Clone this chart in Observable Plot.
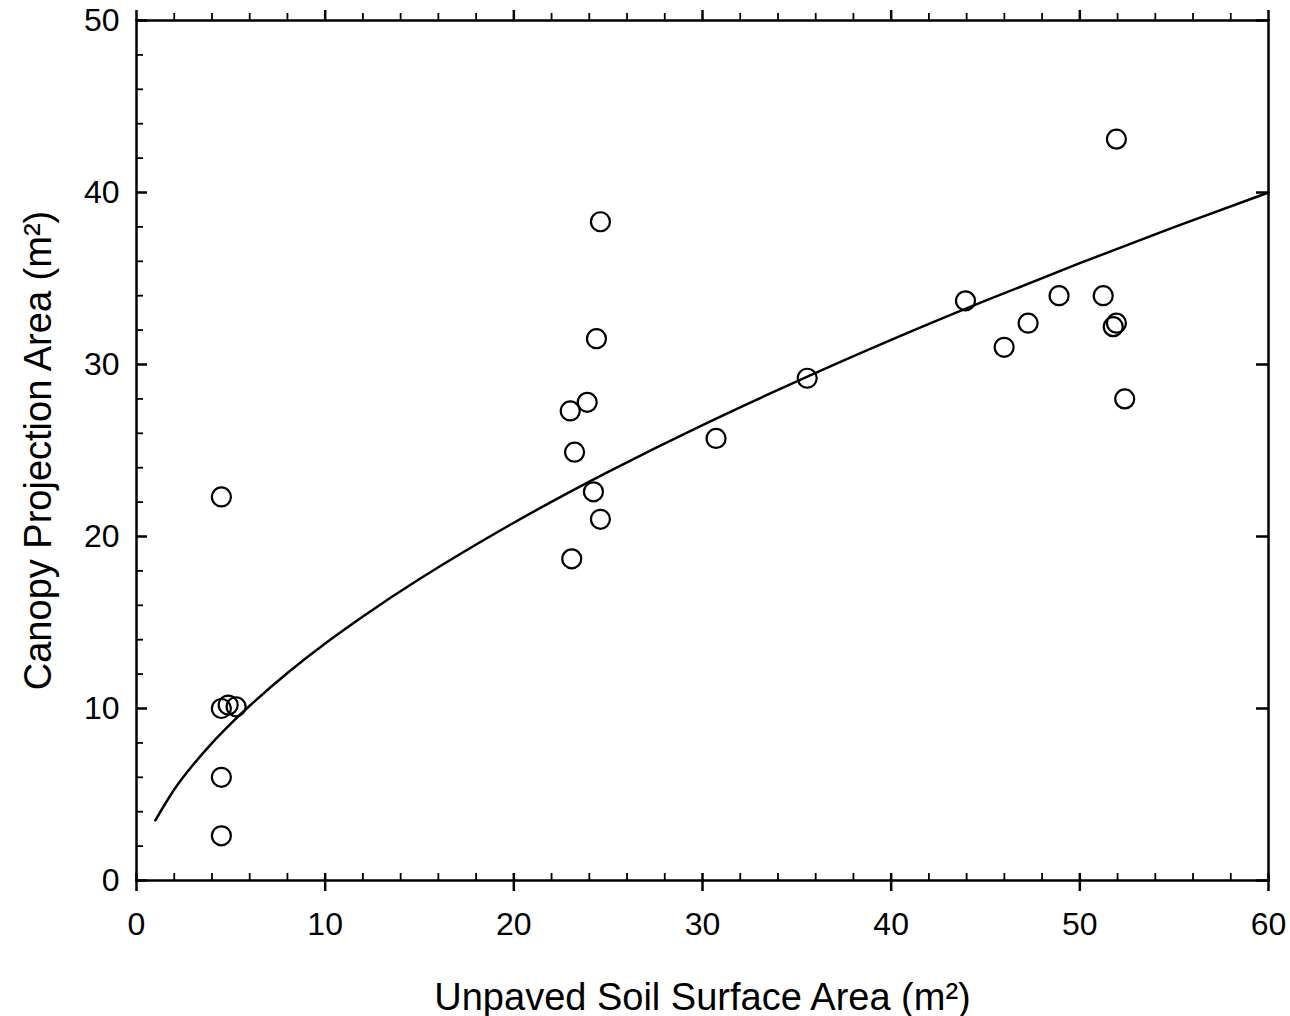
<!DOCTYPE html>
<html><head><meta charset="utf-8">
<script src="https://cdn.jsdelivr.net/npm/d3@7"></script>
<script src="https://cdn.jsdelivr.net/npm/@observablehq/plot@0.6"></script>
<style>html,body{margin:0;padding:0;background:#fff} #chart svg{display:block}</style>
</head><body><div id="chart"></div>
<script>
// Observations: unpaved soil surface area (m²) vs canopy projection area (m²)
const soilArea   = [4.5, 4.5, 4.86, 5.28, 4.5, 4.5, 22.99, 23.07, 23.22, 23.89, 24.22, 24.38, 24.59, 24.59, 30.72, 35.55, 43.94, 45.99, 47.26, 48.9, 51.24, 51.77, 51.94, 51.94, 52.38];
const canopyArea = [22.3, 10.0, 10.2, 10.1, 6.0, 2.6, 27.3, 18.7, 24.9, 27.8, 22.6, 31.5, 38.3, 21.0, 25.7, 29.2, 33.7, 31.0, 32.4, 34.0, 34.0, 32.2, 32.4, 43.1, 28.0];

// Fitted curve at sample positions
const fitX = [1, 2, 3, 4, 5, 6, 8, 10, 12, 15, 20, 25, 30, 35, 40, 45, 50, 55, 60];
const fitY = [3.5, 5.29, 6.73, 7.99, 9.12, 10.16, 12.06, 13.78, 15.35, 17.53, 20.8, 23.76, 26.48, 29.02, 31.43, 33.71, 35.89, 37.99, 40.0];

// Ticks
const xMajorTicks = [0, 10, 20, 30, 40, 50, 60];
const xMinorTicks = [2, 4, 6, 8, 12, 14, 16, 18, 22, 24, 26, 28, 32, 34, 36, 38, 42, 44, 46, 48, 52, 54, 56, 58];
const yMajorTicks = [0, 10, 20, 30, 40, 50];
const yMinorTicks = [2, 4, 6, 8, 12, 14, 16, 18, 22, 24, 26, 28, 32, 34, 36, 38, 42, 44, 46, 48];

const xTitle = ["Unpaved Soil Surface Area (m²)"];
const yTitle = ["Canopy Projection Area (m²)"];

const points = soilArea.map((x, i) => ({x, y: canopyArea[i]}));
const fit = fitX.map((x, i) => ({x, y: fitY[i]}));

const W = 1290, H = 1016, mL = 136, mR = 22, mT = 20, mB = 136;
const innerW = W - mL - mR, innerH = H - mT - mB;
const tickFont = 32, titleFont = 38;

const chart = Plot.plot({
  width: W, height: H,
  marginLeft: mL, marginRight: mR, marginTop: mT, marginBottom: mB,
  style: {fontFamily: "'Liberation Sans', Arial, sans-serif", background: "#fff", color: "#000", overflow: "visible"},
  x: {domain: [0, 60], label: null},
  y: {domain: [0, 50], label: null},
  marks: [
    // fitted curve
    Plot.line(fit, {x: "x", y: "y", curve: "natural", stroke: "#000", strokeWidth: 2.5}),
    // observations
    Plot.dot(points, {x: "x", y: "y", r: 9.5, stroke: "#000", strokeWidth: 2.2, fill: "none"}),
    // frame
    Plot.frame({stroke: "#000", strokeWidth: 2.5}),
    // bottom axis: outward majors with labels
    Plot.axisX(xMajorTicks, {anchor: "bottom", tickSize: 11, tickPadding: 21, strokeWidth: 2.5, fontSize: tickFont, label: null, tickFormat: d => d}),
    // bottom inward ticks
    Plot.tickX(xMajorTicks, {x: d => d, insetTop: innerH - 7, stroke: "#000", strokeWidth: 2.5}),
    Plot.tickX(xMinorTicks, {x: d => d, insetTop: innerH - 7, stroke: "#000", strokeWidth: 1.8}),
    // top axis: outward ticks, no labels
    Plot.axisX(xMajorTicks, {anchor: "top", tickSize: 11, strokeWidth: 2.5, label: null, tickFormat: () => ""}),
    Plot.axisX(xMinorTicks, {anchor: "top", tickSize: 8, strokeWidth: 1.8, label: null, tickFormat: () => ""}),
    // left axis labels
    Plot.axisY(yMajorTicks, {anchor: "left", tickSize: 0, tickPadding: 17, fontSize: tickFont, label: null, tickFormat: d => d}),
    // left inward ticks
    Plot.tickY(yMajorTicks, {y: d => d, insetRight: innerW - 11, stroke: "#000", strokeWidth: 2.5}),
    Plot.tickY(yMinorTicks, {y: d => d, insetRight: innerW - 7, stroke: "#000", strokeWidth: 1.8}),
    // right inward majors
    Plot.tickY(yMajorTicks, {y: d => d, insetLeft: innerW - 12, stroke: "#000", strokeWidth: 2.5}),
    // axis titles
    Plot.text(xTitle, {text: d => d, frameAnchor: "bottom", dy: 117, textAnchor: "middle", lineAnchor: "middle", fontSize: titleFont, fill: "#000"}),
    Plot.text(yTitle, {text: d => d, frameAnchor: "left", dx: -98, rotate: -90, textAnchor: "middle", lineAnchor: "middle", fontSize: titleFont, fill: "#000"})
  ]
});
document.getElementById("chart").appendChild(chart);
</script>
</body></html>
